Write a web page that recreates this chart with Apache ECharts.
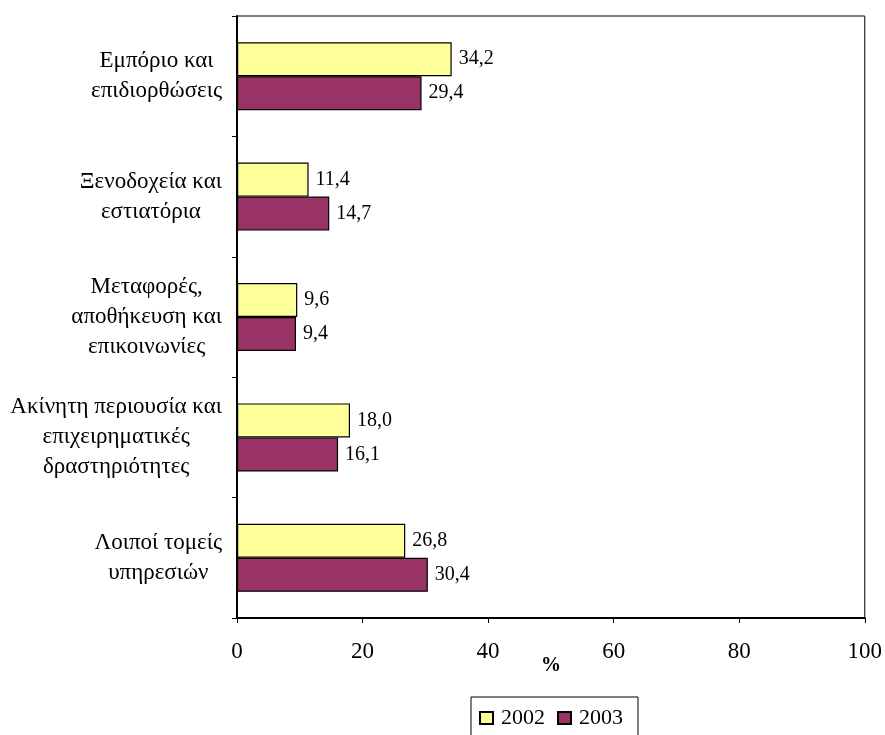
<!DOCTYPE html>
<html>
<head>
<meta charset="utf-8">
<script src="https://cdn.jsdelivr.net/npm/echarts@6/dist/echarts.min.js"></script>
<style>
  html, body { margin: 0; padding: 0; background: #fff; }
  #main { width: 885px; height: 735px; }
</style>
</head>
<body>
<div id="main"></div>
<script>
// τομείς (κατηγορίες)
var categories = [
  "Εμπόριο και\nεπιδιορθώσεις",
  "Ξενοδοχεία και\nεστιατόρια",
  "Μεταφορές,\nαποθήκευση και\nεπικοινωνίες",
  "Ακίνητη περιουσία και\nεπιχειρηματικές\nδραστηριότητες",
  "Λοιποί τομείς\nυπηρεσιών"
];
var values2002 = [34.2, 11.4, 9.6, 18.0, 26.8];
var values2003 = [29.4, 14.7, 9.4, 16.1, 30.4];
var xTicks = [0, 20, 40, 60, 80, 100];

var font = "'Liberation Serif', 'DejaVu Serif', serif";

function commaLabel(p) {
  return p.value.toFixed(1).replace(".", ",");
}

var chart = echarts.init(document.getElementById("main"));

var option = {
  backgroundColor: "#fff",
  animation: false,
  textStyle: { fontFamily: font, color: "#000" },
  grid: {
    left: 237,
    right: 18,
    top: 16,
    bottom: 117,
    show: true,
    borderColor: "#000",
    borderWidth: 1
  },
  legend: {
    top: 697,
    left: 471,
    data: ["2002", "2003"],
    itemWidth: 13,
    itemHeight: 12,
    itemGap: 12,
    padding: [10, 15, 20, 8],
    borderColor: "#000",
    borderWidth: 1,
    icon: "rect",
    textStyle: { fontFamily: font, fontSize: 22, color: "#000", padding: [0, 0, 0, 3] }
  },
  xAxis: {
    type: "value",
    min: xTicks[0],
    max: xTicks[xTicks.length - 1],
    interval: 20,
    name: "%",
    nameLocation: "middle",
    nameGap: 38,
    nameMoveOverlap: false,
    nameTextStyle: { fontFamily: font, fontSize: 20, fontWeight: "bold", color: "#000" },
    axisLine: { show: true, lineStyle: { color: "#000", width: 2 } },
    axisTick: { show: true, length: 5, lineStyle: { color: "#000" } },
    axisLabel: { fontFamily: font, fontSize: 23, color: "#000", margin: 22 },
    splitLine: { show: false }
  },
  yAxis: {
    type: "category",
    inverse: true,
    data: categories,
    axisLine: { show: true, lineStyle: { color: "#000", width: 2 } },
    axisTick: { show: true, length: 5, lineStyle: { color: "#000" } },
    axisLabel: {
      align: "right",
      margin: 15,
      formatter: function (v) {
        return v.split("\n").map(function (l) { return "{c|" + l + "}"; }).join("\n");
      },
      rich: {
        c: { align: "center", fontFamily: font, fontSize: 23, lineHeight: 30, color: "#000" }
      }
    }
  },
  series: [
    {
      name: "2002",
      type: "bar",
      data: values2002,
      barWidth: 34,
      barGap: "0%",
      itemStyle: { color: "#FFFF99", borderColor: "#000", borderWidth: 1.2 },
      label: { show: true, position: "right", distance: 7, formatter: commaLabel,
        fontFamily: font, fontSize: 20, color: "#000" }
    },
    {
      name: "2003",
      type: "bar",
      data: values2003,
      barWidth: 34,
      barGap: "0%",
      itemStyle: { color: "#993366", borderColor: "#000", borderWidth: 1.2 },
      label: { show: true, position: "right", distance: 7, formatter: commaLabel,
        fontFamily: font, fontSize: 20, color: "#000" }
    }
  ]
};

chart.setOption(option);
</script>
</body>
</html>
